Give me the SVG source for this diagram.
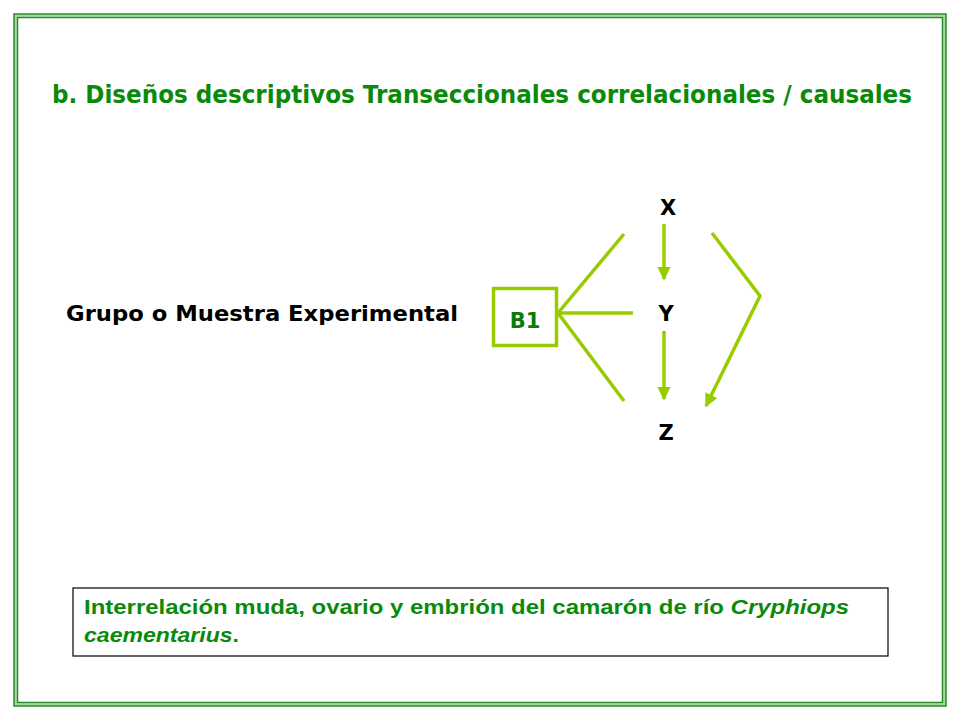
<svg xmlns="http://www.w3.org/2000/svg" width="960" height="720" viewBox="0 0 960 720">
<defs>
<style>
.frame-dark{fill:none;stroke:#2a8a2a;stroke-width:1.5}
.frame-light{fill:none;stroke:#9ddc9d;stroke-width:2.5}
.conn{fill:none;stroke:#99cc00;stroke-width:3.5;stroke-linecap:butt}
.title{font-family:"DejaVu Sans","Liberation Sans",sans-serif;font-weight:bold;fill:#0a8a0a;font-size:24px}
.lbl{font-family:"DejaVu Sans","Liberation Sans",sans-serif;font-weight:bold;fill:#000;font-size:22px}
.var{font-family:"DejaVu Sans","Liberation Sans",sans-serif;font-weight:bold;fill:#000;font-size:21px;text-anchor:middle}
.note{font-family:"Liberation Sans",Arial,sans-serif;font-weight:bold;fill:#0a8a0a;font-size:21px}
</style>
<marker id="ah" viewBox="0 0 10 10" refX="9" refY="5" markerWidth="3.8" markerHeight="3.8" markerUnits="strokeWidth" orient="auto">
<path d="M0,0 L10,5 L0,10 Z" fill="#99cc00"/>
</marker>
</defs>
<rect width="960" height="720" fill="#ffffff"/>
<g id="frame">
<rect x="15.5" y="15.5" width="929" height="689" class="frame-light"/>
<rect x="14" y="14" width="932" height="692" class="frame-dark"/>
<rect x="17.5" y="17.5" width="925" height="685" class="frame-dark"/>
</g>
<g id="title">
<text x="52" y="103" class="title" textLength="860" lengthAdjust="spacingAndGlyphs">b. Diseños descriptivos Transeccionales correlacionales / causales</text>
</g>
<g id="grupo">
<text x="66" y="321" class="lbl" textLength="392" lengthAdjust="spacingAndGlyphs">Grupo o Muestra Experimental</text>
</g>
<g id="B1">
<rect x="493.5" y="288.5" width="63" height="57" fill="#ffffff" stroke="#99cc00" stroke-width="3.5"/>
<text x="525" y="328" text-anchor="middle" font-family="DejaVu Sans, Liberation Sans, sans-serif" font-weight="bold" font-size="21" fill="#0a7a0a">B1</text>
</g>
<g id="X"><text x="668" y="215" class="var">X</text></g>
<g id="Y"><text x="666" y="321" class="var">Y</text></g>
<g id="Z"><text x="666" y="440" class="var">Z</text></g>
<g id="connectors">
<polyline class="conn" points="624,234 558,313 624,401"/>
<line class="conn" x1="558" y1="313" x2="633" y2="313"/>
<line class="conn" x1="664" y1="224" x2="664" y2="279" marker-end="url(#ah)"/>
<line class="conn" x1="664" y1="331" x2="664" y2="399" marker-end="url(#ah)"/>
<polyline class="conn" points="712,233 760,296 706,406" marker-end="url(#ah)"/>
</g>
<g id="note">
<rect x="73" y="588" width="815" height="68" fill="#ffffff" stroke="#000" stroke-width="1.2"/>
<text x="84" y="614" class="note" textLength="765" lengthAdjust="spacingAndGlyphs">Interrelación muda, ovario y embrión del camarón de río <tspan font-style="italic">Cryphiops</tspan></text>
<text x="84" y="642" class="note" textLength="155" lengthAdjust="spacingAndGlyphs"><tspan font-style="italic">caementarius</tspan>.</text>
</g>
</svg>
